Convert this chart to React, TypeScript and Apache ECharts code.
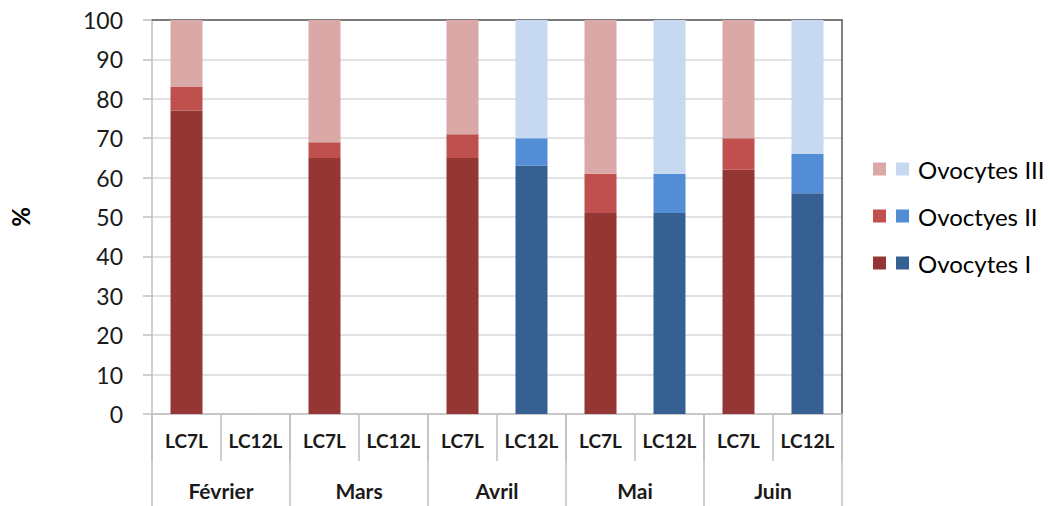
import React, { useEffect, useRef } from "react";
import * as echarts from "echarts";

const months = ["Février", "Mars", "Avril", "Mai", "Juin"];
const lines = ["LC7L", "LC12L"];
const subCategories = ["LC7L", "LC12L", "LC7L", "LC12L", "LC7L", "LC12L", "LC7L", "LC12L", "LC7L", "LC12L"];
const yTicks = [0, 10, 20, 30, 40, 50, 60, 70, 80, 90, 100];

// LC7L values per month (Février..Juin)
const lc7lI = [77, 65, 65, 51, 62];
const lc7lII = [6, 4, 6, 10, 8];
const lc7lIII = [17, 31, 29, 39, 30];
// LC12L values per month (null = no data)
const lc12lI = [null, null, 63, 51, 56];
const lc12lII = [null, null, 7, 10, 10];
const lc12lIII = [null, null, 30, 39, 34];

const stageNames = ["Ovocytes I", "Ovoctyes II", "Ovocytes III"];
const redColors = ["#943634", "#C0504D", "#D9A8A7"];
const blueColors = ["#366092", "#538DD5", "#C6D9F1"];

const FONT = "Lato, 'Open Sans', sans-serif";

function spread(vals: (number | null)[], slot: number): (number | null)[] {
  const out: (number | null)[] = [];
  vals.forEach((v) => {
    for (let k = 0; k < lines.length; k++) out.push(k === slot ? v : null);
  });
  return out;
}

export default function App() {
  const ref = useRef<HTMLDivElement>(null);
  useEffect(() => {
    if (!ref.current) return;
    const chart = echarts.init(ref.current, undefined, { renderer: "svg" });
    const redData = [lc7lI, lc7lII, lc7lIII];
    const blueData = [lc12lI, lc12lII, lc12lIII];
    const series: any[] = [];
    for (let i = 0; i < 3; i++) {
      series.push({
        name: "r" + stageNames[i],
        type: "bar",
        stack: "s",
        barWidth: 32,
        data: spread(redData[i], 0),
        itemStyle: { color: redColors[i] },
      });
    }
    for (let i = 0; i < 3; i++) {
      series.push({
        name: stageNames[i],
        type: "bar",
        stack: "s",
        barWidth: 32,
        data: spread(blueData[i], 1),
        itemStyle: { color: blueColors[i] },
      });
    }
    const axisGrey = "#BFBFBF";
    const frame = "#595959";
    const legendTops = [157, 204, 251];
    const legends = [2, 1, 0].map((si, row) => ({
      orient: "horizontal",
      left: 873,
      top: legendTops[row],
      padding: 0,
      itemWidth: 13,
      itemHeight: 13,
      itemGap: 10,
      icon: "rect",
      data: ["r" + stageNames[si], stageNames[si]],
      formatter: (name: string) => (name.charAt(0) === "r" ? "" : name),
      textStyle: { fontSize: 24, color: "#000", fontFamily: FONT, padding: [0, 0, 0, 4] },
      selectedMode: false,
    }));
    chart.setOption({
      animation: false,
      textStyle: { fontFamily: FONT },
      grid: { left: 152, right: 208, top: 20, bottom: 92 },
      legend: legends,
      xAxis: [
        {
          type: "category",
          data: subCategories,
          position: "bottom",
          axisLine: { show: true, lineStyle: { color: axisGrey, width: 1.5 } },
          axisTick: { show: true, alignWithLabel: false, length: 47, lineStyle: { color: axisGrey, width: 1.5 } },
          axisLabel: { interval: 0, fontSize: 19, fontWeight: "bold", color: "#1a1a1a", margin: 17, fontFamily: FONT },
        },
        {
          type: "category",
          data: months,
          position: "bottom",
          axisLine: { show: false },
          axisTick: { show: true, alignWithLabel: false, length: 92, lineStyle: { color: axisGrey, width: 1.5 } },
          axisLabel: { interval: 0, fontSize: 21, fontWeight: "bold", color: "#1a1a1a", margin: 66, fontFamily: FONT },
        },
        {
          type: "category",
          data: months,
          position: "top",
          axisLine: { show: true, lineStyle: { color: frame, width: 1.5 } },
          axisTick: { show: false },
          axisLabel: { show: false },
        },
      ],
      yAxis: [
        {
          type: "value",
          min: 0,
          max: 100,
          interval: 10,
          name: "%",
          nameLocation: "middle",
          nameRotate: 90,
          nameGap: 120,
          nameTextStyle: { fontSize: 24, fontWeight: "bold", color: "#000", fontFamily: FONT },
          axisLine: { show: true, lineStyle: { color: axisGrey, width: 1.5 } },
          axisTick: { show: true, length: 9, lineStyle: { color: axisGrey, width: 1.5 } },
          axisLabel: {
            fontSize: 23,
            color: "#1a1a1a",
            margin: 29,
            fontFamily: FONT,
            formatter: (v: number) => (yTicks.includes(v) ? String(v) : ""),
          },
          splitLine: { show: true, lineStyle: { color: "#D9D9D9", width: 1.5 } },
        },
        {
          type: "value",
          min: 0,
          max: 100,
          interval: 10,
          position: "right",
          axisLine: { show: true, lineStyle: { color: frame, width: 1.5 } },
          axisTick: { show: false },
          axisLabel: { show: false },
          splitLine: { show: false },
        },
      ],
      series,
    });
    return () => chart.dispose();
  }, []);
  return <div ref={ref} style={{ width: 1050, height: 506, position: "absolute", left: 0, top: 0, background: "#fff" }} />;
}
